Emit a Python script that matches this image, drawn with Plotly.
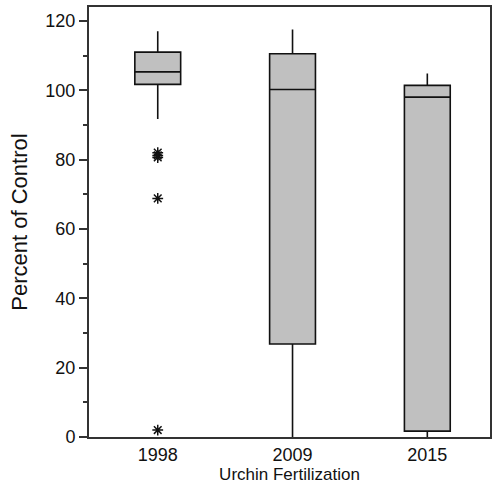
import plotly.graph_objects as go

# Fertilization success as percent of control, per survey year
years = ["1998", "2009", "2015"]
q1 = [101.7, 26.8, 1.7]
median = [105.3, 100.2, 98.0]
q3 = [111.0, 110.5, 101.4]
lower_whisker = [91.7, 0.0, 0.0]
upper_whisker = [117.0, 117.5, 104.8]

# Outlying observations (1998 only)
outlier_year = ["1998", "1998", "1998", "1998", "1998"]
outlier_value = [82.0, 81.2, 80.6, 68.8, 2.0]

fig = go.Figure()

fig.add_trace(go.Box(
    x=years,
    q1=q1,
    median=median,
    q3=q3,
    lowerfence=lower_whisker,
    upperfence=upper_whisker,
    boxpoints=False,
    width=0.34,
    fillcolor="#c0c0c0",
    line=dict(color="#111111", width=1.6),
    whiskerwidth=0,
    showlegend=False,
    hoverinfo="skip",
))

fig.add_trace(go.Scatter(
    x=outlier_year,
    y=outlier_value,
    mode="markers",
    marker=dict(symbol="asterisk-open", size=9, color="#111111",
                line=dict(color="#111111", width=1.5)),
    showlegend=False,
    hoverinfo="skip",
))

font_family = "Liberation Sans, Arial, sans-serif"

fig.update_layout(
    width=495,
    height=487,
    margin=dict(l=89, r=3, t=7, b=50),
    paper_bgcolor="white",
    plot_bgcolor="white",
    font=dict(family=font_family, color="#111111"),
    xaxis=dict(
        type="category",
        categoryorder="array",
        categoryarray=years,
        range=[-0.51, 2.465],
        showgrid=False,
        zeroline=False,
        showline=True,
        linecolor="#333333",
        linewidth=2,
        mirror=True,
        ticks="",
        tickfont=dict(size=18, family=font_family),
        title=dict(text="Urchin Fertilization", font=dict(size=17), standoff=1),
    ),
    yaxis=dict(
        range=[0, 124],
        tickvals=[0, 20, 40, 60, 80, 100, 120],
        showgrid=False,
        zeroline=False,
        showline=True,
        linecolor="#333333",
        linewidth=2,
        mirror=True,
        ticks="outside",
        ticklen=8,
        tickwidth=1.5,
        tickcolor="#333333",
        tickfont=dict(size=18, family=font_family),
        minor=dict(tickvals=[10, 30, 50, 70, 90, 110], ticks="outside",
                   ticklen=4, tickwidth=1.5, tickcolor="#333333"),
        title=dict(text="Percent of Control", font=dict(size=22), standoff=12),
    ),
)

fig.write_html("out.html")
